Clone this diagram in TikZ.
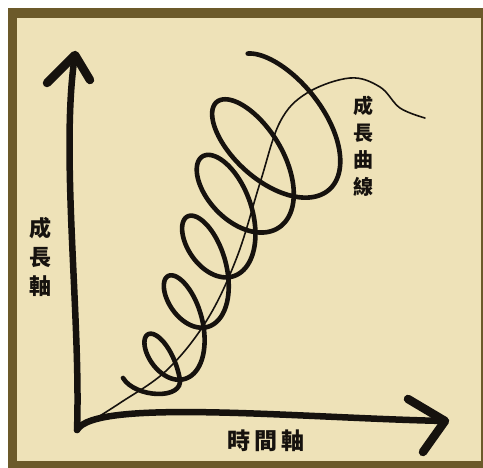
\documentclass[tikz,border=0pt]{standalone}
\usepackage{fontspec}
\newfontfamily\cjk{Noto Sans CJK TC}
\definecolor{paper}{RGB}{238,226,184}
\definecolor{frame}{RGB}{108,90,42}
\definecolor{ink}{RGB}{22,18,14}
\tikzset{
  axisline/.style={draw=ink,line width=6.5pt,line cap=round,line join=round},
  headline/.style={draw=ink,line width=8.5pt,line cap=round,line join=round},
  spiralline/.style={draw=ink,line width=4.6pt,line cap=round,line join=round},
  growline/.style={draw=ink,line width=1.6pt,line cap=round},
  lab/.style={font=\cjk\bfseries\fontsize{22}{29}\selectfont,text=ink,align=center,inner sep=0pt},
  declare function={
    ss(\t)=\t/360;
    sgm(\t)=1/(1+exp(min(8,-3*(ss(\t)-4.6))));
    sgb(\t)=1/(1+exp(min(8,-4*(ss(\t)-5.8))));
    hsp(\t)=ln(1+exp(max(-9,3*(ss(\t)-4.75))))/3;
    ggr(\t)=0.75+0.25*exp(0.37*(ss(\t)-2.25));
    spcx(\t)=137.6+21.5*ss(\t)+14*hsp(\t);
    spcy(\t)=439.9-55.5*ss(\t)+17*hsp(\t);
    spx(\t)=spcx(\t)+ggr(\t)*((-9-7*sgm(\t))*sin(\t)+(24+6*sgm(\t))*cos(\t));
    spy(\t)=spcy(\t)+ggr(\t)*((-38+5*sgb(\t))*sin(\t)+(2+4*sgm(\t))*cos(\t));
  }
}
\begin{document}
\begin{tikzpicture}[x=1pt,y=-1pt]
\useasboundingbox (0,0) rectangle (483,468);
\fill[white] (0,0) rectangle (483,468);
\fill[frame] (8,8) rectangle (483,468);
\fill[paper] (17,18) rectangle (481,461);
% axes
\coordinate (O) at (77,430);
\coordinate (ytip) at (75,55);
\coordinate (yl) at (47,83);
\coordinate (yr) at (90,80);
\coordinate (xtip) at (445,421);
\coordinate (xu) at (408,399);
\coordinate (xd) at (423,452);
\draw[axisline] (O) .. controls (81,320) and (60,150) .. (ytip);
\draw[axisline] (O) .. controls (95,398) and (300,418) .. (xtip);
\draw[headline] (yl) -- (ytip) -- (yr);
\draw[headline] (xu) -- (xtip) -- (xd);
% growth curve
\draw[growline] plot[smooth,tension=0.6] coordinates {(O) (120,403) (167,370) (207,320) (237,257) (260,183) (280,122) (307,93) (350,78) (380,87) (400,108) (425,118)};
% spiral
\coordinate (sp0) at (123,378);
\coordinate (sp1) at ({spx(370)},{spy(370)});
\draw[spiralline] (sp0) .. controls (135,398) and (184,400.3) .. (sp1)
  -- plot[domain=370:2270,samples=1000,variable=\t] ({spx(\t)},{spy(\t)});
% labels
\node[lab] (ylab) at (40,257) {成\\長\\軸};
\node[lab,font=\cjk\bfseries\fontsize{23}{29}\selectfont] (xlab) at (266,441) {時\,間\,軸};
\node[lab,font=\cjk\bfseries\fontsize{20}{27}\selectfont] (clab) at (363,146) {成\\長\\曲\\線};
\end{tikzpicture}
\end{document}
